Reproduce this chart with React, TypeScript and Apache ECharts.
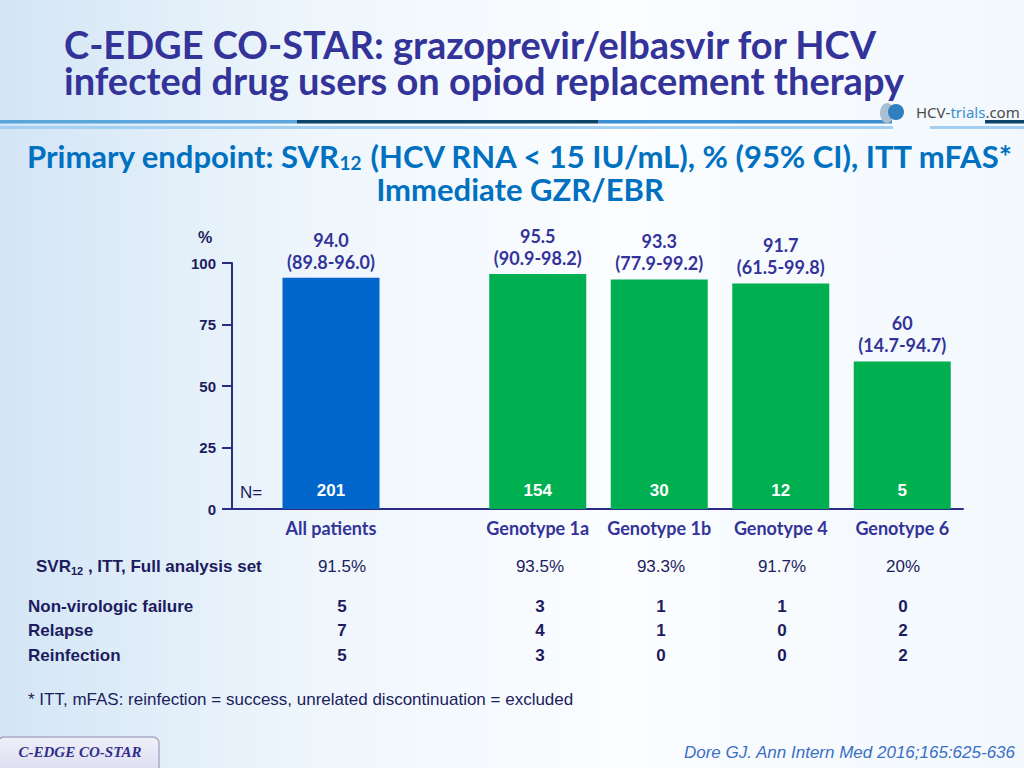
import React, { useEffect, useRef } from "react";
import * as echarts from "echarts";

// ---------- data ----------
const allCategory = ["All patients"];
const genotypeCategories = ["Genotype 1a", "Genotype 1b", "Genotype 4", "Genotype 6"];
const allSvr = [94.0];
const genotypeSvr = [95.5, 93.3, 91.7, 60];
const allSvrText = ["94.0"];
const genotypeSvrText = ["95.5", "93.3", "91.7", "60"];
const allCi = ["(89.8-96.0)"];
const genotypeCi = ["(90.9-98.2)", "(77.9-99.2)", "(61.5-99.8)", "(14.7-94.7)"];
const allN = [201];
const genotypeN = [154, 30, 12, 5];
const yMin = 0;
const yMax = 100;
const yInterval = 25;

const svrFullAnalysis = ["91.5%", "93.5%", "93.3%", "91.7%", "20%"];
const nonVirologicFailure = [5, 3, 1, 1, 0];
const relapse = [7, 4, 1, 0, 2];
const reinfection = [5, 3, 0, 0, 2];

// ---------- styles ----------
const NAVY = "#2b2d84";
const LABEL = "#333399";
const TABLE = "#1c1c5e";
const BLUE_BAR = "#0066cc";
const GREEN_BAR = "#00b050";
const CAL = "Lato, 'Noto Sans', sans-serif";
const ARIAL = "'Liberation Sans', Arial, sans-serif";

const colX = [342, 540, 661, 782, 903];

function txt(x: number, y: number, text: string, font: string, fill: string, align = "left", extra: any = {}) {
  return {
    type: "text",
    x,
    y,
    silent: true,
    style: { text, font, fill, align, verticalAlign: "middle", ...extra },
  };
}

function tableRow(label: string, values: (string | number)[], y: number, bold: boolean) {
  const items: any[] = [txt(28, y, label, `bold 17px ${ARIAL}`, TABLE)];
  values.forEach((v, i) => {
    items.push(txt(colX[i], y, String(v), `${bold ? "bold " : ""}17px ${ARIAL}`, TABLE, "center"));
  });
  return items;
}

function buildOption(): any {
  const topLabel = (texts: string[], cis: string[]) => ({
    show: true,
    position: "top",
    distance: 5,
    formatter: (p: any) => `${texts[p.dataIndex]}\n${cis[p.dataIndex]}`,
    color: LABEL,
    fontFamily: CAL,
    fontWeight: "bold",
    fontSize: 18,
    lineHeight: 22,
  });
  const nLabel = (ns: number[]) => ({
    show: true,
    position: "insideBottom",
    distance: 10,
    formatter: (p: any) => String(ns[p.dataIndex]),
    color: "#ffffff",
    fontFamily: ARIAL,
    fontWeight: "bold",
    fontSize: 17,
  });
  const catAxis = (gridIndex: number, data: string[]) => ({
    gridIndex,
    type: "category",
    data,
    axisLine: { show: false },
    axisTick: { show: false },
    axisLabel: {
      interval: 0,
      hideOverlap: false,
      color: LABEL,
      fontFamily: CAL,
      fontWeight: "bold",
      fontSize: 18,
      margin: 10,
    },
    splitLine: { show: false },
  });
  const hiddenY = (gridIndex: number) => ({ gridIndex, type: "value", min: yMin, max: yMax, show: false });

  const graphic: any[] = [
    // header rule lines
    { type: "rect", silent: true, shape: { x: 0, y: 120, width: 297, height: 3.5 }, style: { fill: "#5aa6dc" } },
    { type: "rect", silent: true, shape: { x: 297, y: 120, width: 301, height: 3.5 }, style: { fill: "#0d4469" } },
    { type: "rect", silent: true, shape: { x: 598, y: 120, width: 294, height: 3.5 }, style: { fill: "#3b8ed0" } },
    { type: "rect", silent: true, shape: { x: 985, y: 120, width: 39, height: 3.5 }, style: { fill: "#0d4469" } },
    { type: "rect", silent: true, shape: { x: 0, y: 126, width: 893, height: 3 }, style: { fill: "#a3d0f2" } },
    { type: "rect", silent: true, shape: { x: 930, y: 126, width: 94, height: 3 }, style: { fill: "#a3d0f2" } },
    // logo
    { type: "ellipse", silent: true, shape: { cx: 887, cy: 113, rx: 7, ry: 10 }, style: { fill: "#a9bfd2" } },
    { type: "circle", silent: true, shape: { cx: 896, cy: 112, r: 8 }, style: { fill: "#2f7fc1" } },
    {
      type: "text",
      x: 916,
      y: 112,
      silent: true,
      style: {
        text: "{a|HCV-}{b|trials}{a|.com}",
        verticalAlign: "middle",
        rich: {
          a: { fontFamily: "'Noto Sans', sans-serif", fontSize: 15, fill: "#4a4a4a" },
          b: { fontFamily: "'Noto Sans', sans-serif", fontSize: 15, fill: "#3a8fd0" },
        },
      },
    },
    // title (two lines in one text)
    txt(
      64,
      62,
      "C-EDGE CO-STAR: grazoprevir/elbasvir for HCV\ninfected drug users on opiod replacement therapy",
      `bold 38px ${CAL}`,
      "#333399",
      "left",
      { lineHeight: 36 }
    ),
    // subtitle (two lines in one text)
    {
      type: "text",
      x: 520,
      y: 172,
      silent: true,
      style: {
        text: "{a|Primary endpoint: SVR}{s|12}{a| (HCV RNA < 15 IU/mL), % (95% CI), ITT mFAS*}\n{a|Immediate GZR/EBR}",
        align: "center",
        verticalAlign: "middle",
        rich: {
          a: { fontFamily: CAL, fontWeight: "bold", fontSize: 31, fill: "#0070c0", lineHeight: 33 },
          s: { fontFamily: CAL, fontWeight: "bold", fontSize: 19, fill: "#0070c0", lineHeight: 19, verticalAlign: "bottom" },
        },
      },
    },
    // axis unit + N=
    txt(205, 237, "%", `bold 16px ${ARIAL}`, TABLE, "center"),
    txt(240, 492, "N=", `17px ${ARIAL}`, TABLE),
    // table
    {
      type: "text",
      x: 36,
      y: 566,
      silent: true,
      style: {
        text: "{a|SVR}{s|12}{a| , ITT, Full analysis set}",
        verticalAlign: "middle",
        rich: {
          a: { fontFamily: ARIAL, fontWeight: "bold", fontSize: 17, fill: TABLE, lineHeight: 20 },
          s: { fontFamily: ARIAL, fontWeight: "bold", fontSize: 11, fill: TABLE, lineHeight: 11, verticalAlign: "bottom" },
        },
      },
    },
    ...svrFullAnalysis.map((v, i) => txt(colX[i], 566, v, `17px ${ARIAL}`, TABLE, "center")),
    ...tableRow("Non-virologic failure", nonVirologicFailure, 606, true),
    ...tableRow("Relapse", relapse, 630, true),
    ...tableRow("Reinfection", reinfection, 655, true),
    txt(28, 699, "* ITT, mFAS: reinfection = success, unrelated discontinuation = excluded", `17px ${ARIAL}`, TABLE),
    // footer
    {
      type: "rect",
      silent: true,
      shape: { x: -2, y: 737, width: 161, height: 40, r: 6 },
      style: {
        fill: new echarts.graphic.LinearGradient(0, 0, 0, 1, [
          { offset: 0, color: "#f0f0fa" },
          { offset: 1, color: "#d9d9ee" },
        ]),
        stroke: "#a9a9c6",
        lineWidth: 1.5,
      },
    },
    txt(80, 752, "C-EDGE CO-STAR", `italic bold 15px 'Liberation Serif', serif`, "#2e2e8a", "center"),
    txt(1015, 752, "Dore GJ. Ann Intern Med 2016;165:625-636", `italic 17px ${ARIAL}`, "#3a6fc4", "right"),
  ];

  return {
    animation: false,
    backgroundColor: new echarts.graphic.LinearGradient(0, 0, 1, 0, [
      { offset: 0, color: "#d3e5f5" },
      { offset: 0.3, color: "#eef6fc" },
      { offset: 0.6, color: "#fbfdff" },
      { offset: 1, color: "#f2f8fd" },
    ]),
    grid: [
      { left: 232, top: 263, width: 731, height: 246 },
      { left: 270, top: 263, width: 122, height: 246 },
      { left: 477, top: 263, width: 486, height: 246 },
    ],
    xAxis: [
      {
        gridIndex: 0,
        type: "value",
        min: 0,
        max: 1,
        axisLine: { show: true, onZero: false, lineStyle: { color: NAVY, width: 2 } },
        axisTick: { show: false },
        axisLabel: { show: false },
        splitLine: { show: false },
      },
      catAxis(1, allCategory),
      catAxis(2, genotypeCategories),
    ],
    yAxis: [
      {
        gridIndex: 0,
        type: "value",
        min: yMin,
        max: yMax,
        interval: yInterval,
        axisLine: { show: true, lineStyle: { color: NAVY, width: 2 } },
        axisTick: { show: true, length: 10, lineStyle: { color: NAVY, width: 2 } },
        axisLabel: { color: TABLE, fontFamily: ARIAL, fontWeight: "bold", fontSize: 15, margin: 16 },
        splitLine: { show: false },
      },
      hiddenY(1),
      hiddenY(2),
    ],
    series: [
      {
        type: "bar",
        xAxisIndex: 1,
        yAxisIndex: 1,
        data: allSvr,
        barWidth: 97,
        itemStyle: { color: BLUE_BAR },
        label: topLabel(allSvrText, allCi),
      },
      {
        type: "bar",
        xAxisIndex: 1,
        yAxisIndex: 1,
        data: allSvr,
        barWidth: 97,
        barGap: "-100%",
        silent: true,
        itemStyle: { color: "rgba(0,0,0,0)" },
        label: nLabel(allN),
      },
      {
        type: "bar",
        xAxisIndex: 2,
        yAxisIndex: 2,
        data: genotypeSvr,
        barWidth: 97,
        itemStyle: { color: GREEN_BAR },
        label: topLabel(genotypeSvrText, genotypeCi),
      },
      {
        type: "bar",
        xAxisIndex: 2,
        yAxisIndex: 2,
        data: genotypeSvr,
        barWidth: 97,
        barGap: "-100%",
        silent: true,
        itemStyle: { color: "rgba(0,0,0,0)" },
        label: nLabel(genotypeN),
      },
    ],
    graphic,
  };
}

export default function App() {
  const ref = useRef<HTMLDivElement>(null);
  useEffect(() => {
    if (!ref.current) return;
    const chart = echarts.init(ref.current, null, { renderer: "svg" });
    chart.setOption(buildOption());
    return () => chart.dispose();
  }, []);
  return <div ref={ref} style={{ position: "absolute", left: 0, top: 0, width: 1024, height: 768 }} />;
}
